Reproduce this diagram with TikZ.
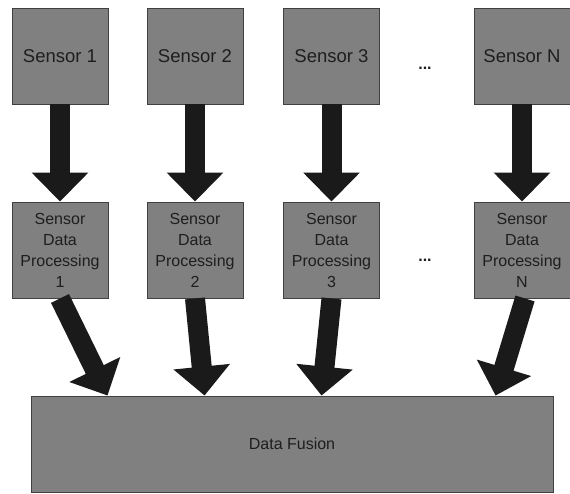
\documentclass[tikz,border=0pt]{standalone}
\usepackage{fontspec}
\setmainfont{Liberation Sans}
\usepackage{tikz}
\usetikzlibrary{arrows.meta, calc}
\definecolor{boxgray}{RGB}{128, 128, 128}
\definecolor{edgegray}{RGB}{64, 64, 64}
\definecolor{arrowblack}{RGB}{26, 26, 26}
\definecolor{textdark}{RGB}{30, 30, 30}

\tikzset{
  unitbox/.style={draw=edgegray, line width=0.9pt, fill=boxgray, text=textdark,
    minimum width=96pt, minimum height=96pt, inner sep=0pt, align=center},
  sensorbox/.style={unitbox, font=\fontsize{18.5}{22}\selectfont},
  procbox/.style={unitbox, font=\fontsize{16}{21}\selectfont},
  fusionbox/.style={unitbox, minimum width=522pt, font=\fontsize{16}{21}\selectfont},
  bigarrow/.style={draw=arrowblack, line width=20pt,
    -{Triangle[width=55pt, length=29pt]}},
  dotsnode/.style={text=textdark, font=\fontsize{16}{20}\selectfont\bfseries}
}

\begin{document}
\begin{tikzpicture}[x=1pt, y=-1pt]
  \useasboundingbox (0,0) rectangle (570,493);

  % sensors
  \node[sensorbox] (s1) at (60, 56) {Sensor 1};
  \node[sensorbox] (s2) at (195, 56) {Sensor 2};
  \node[sensorbox] (s3) at (331.5, 56) {Sensor 3};
  \node[sensorbox] (sN) at (522, 56) {Sensor N};
  \node[dotsnode] (dots1) at (425, 68) {...};

  % processing stages
  \node[procbox] (p1) at (60, 250) {Sensor\\Data\\Processing\\1};
  \node[procbox] (p2) at (195, 250) {Sensor\\Data\\Processing\\2};
  \node[procbox] (p3) at (331.5, 250) {Sensor\\Data\\Processing\\3};
  \node[procbox] (pN) at (522, 250) {Sensor\\Data\\Processing\\N};
  \node[dotsnode] (dots2) at (425, 260) {...};

  % fusion
  \node[fusionbox] (df) at (292, 444) {Data Fusion};

  % sensor -> processing
  \draw[bigarrow] (s1.south) -- (p1.north);
  \draw[bigarrow] (s2.south) -- (p2.north);
  \draw[bigarrow] (s3.south) -- (p3.north);
  \draw[bigarrow] (sN.south) -- (pN.north);

  % processing -> fusion
  \draw[bigarrow] (p1.south) -- ([xshift=77pt]df.north west);
  \draw[bigarrow] (p2.south) -- ([xshift=174pt]df.north west);
  \draw[bigarrow] (p3.south) -- ([xshift=291pt]df.north west);
  \draw[bigarrow] ([xshift=3pt]pN.south) -- ([xshift=465pt]df.north west);
\end{tikzpicture}
\end{document}
